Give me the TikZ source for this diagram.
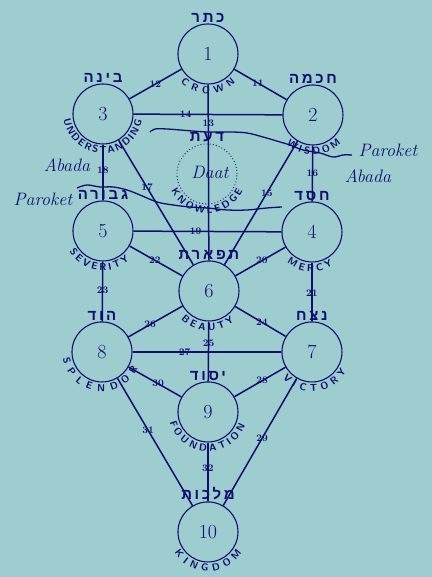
\documentclass[tikz,border=0pt]{standalone}
\usepackage{fontspec}
\newfontfamily\hebfont[Script=Hebrew,LetterSpace=18]{Liberation Sans}
\TeXXeTstate=1
\usetikzlibrary{positioning,decorations.text}
\definecolor{ink}{RGB}{14,14,112}
\definecolor{paper}{RGB}{157,205,206}
% name written round the lower half of a circle
\newcommand{\undername}[4]{\path[decorate,decoration={text along path,text align=fit to path,text color=ink,
  text={|\sffamily\bfseries\fontsize{10}{10}\selectfont|#4}}] (#1.center) ++(#2:39.5pt) arc[start angle=#2,end angle=#3,radius=39.5pt];}

\begin{document}
\begin{tikzpicture}[x=1pt,y=1pt,
  sef/.style={circle,draw=ink,line width=1.1pt,minimum size=60pt,inner sep=0pt,text=ink,font=\fontsize{20}{20}\selectfont},
  route/.style={draw=ink,line width=1.5pt},
  pnum/.style={text=ink,inner sep=0pt,font=\bfseries\fontsize{10}{10}\selectfont},
  heb/.style={text=ink,inner sep=0pt,font=\hebfont\bfseries\fontsize{15}{15}\selectfont},
  hand/.style={text=ink,inner sep=0pt,font=\itshape\fontsize{18}{18}\selectfont},
  veil/.style={draw=ink,line width=1.3pt}]
\fill[paper] (0,0) rectangle (432,577);
% the ten sefirot and daat
\node[sef] (s1) at (208,523) {1};
\node[sef] (s2) at (313,462) {2};
\node[sef] (s3) at (103,463) {3};
\node[sef] (s4) at (312,345) {4};
\node[sef] (s5) at (103,346) {5};
\node[sef] (s6) at (209,286) {6};
\node[sef] (s7) at (312,225) {7};
\node[sef] (s8) at (102,225) {8};
\node[sef] (s9) at (208,165) {9};
\node[sef] (s10) at (208,45) {10};
\node[circle,draw=ink,line width=0.9pt,dash pattern=on 0.9pt off 2.2pt,minimum size=60pt] (daat) at (207,403) {};
\node[hand] (daatname) at (210,405) {Daat};
% the 22 paths
\draw[route] (s1) -- node[pnum,pos=.45] (p11) {11} (s2);
\draw[route] (s1) -- node[pnum,pos=.5] (p12) {12} (s3);
\draw[route] (s1) -- node[pnum,pos=.22] (p13) {13} (s6);
\draw[route] (s3) -- node[pnum,pos=.35] (p14) {14} (s2);
\draw[route] (s2) -- node[pnum,pos=.42] (p15) {15} (s6);
\draw[route] (s2) -- node[pnum,pos=.5] (p16) {16} (s4);
\draw[route] (s3) -- node[pnum,pos=.38] (p17) {17} (s6);
\draw[route] (s3) -- node[pnum,pos=.46] (p18) {18} (s5);
\draw[route] (s5) -- node[pnum,pos=.42] (p19) {19} (s4);
\draw[route] (s4) -- node[pnum,pos=.47] (p20) {20} (s6);
\draw[route] (s4) -- node[pnum,pos=.52] (p21) {21} (s7);
\draw[route] (s5) -- node[pnum,pos=.48] (p22) {22} (s6);
\draw[route] (s5) -- node[pnum,pos=.48] (p23) {23} (s8);
\draw[route] (s6) -- node[pnum,pos=.53] (p24) {24} (s7);
\draw[route] (s6) -- node[pnum,pos=.36] (p25) {25} (s9);
\draw[route] (s6) -- node[pnum,pos=.6] (p26) {26} (s8);
\draw[route] (s8) -- node[pnum,pos=.35] (p27) {27} (s7);
\draw[route] (s7) -- node[pnum,pos=.46] (p28) {28} (s9);
\draw[route] (s7) -- node[pnum,pos=.47] (p29) {29} (s10);
\draw[route] (s8) -- node[pnum,pos=.56] (p30) {30} (s9);
\draw[route] (s8) -- node[pnum,pos=.41] (p31) {31} (s10);
\draw[route] (s9) -- node[pnum,pos=.43] (p32) {32} (s10);
% hebrew names
\node[heb,above=1pt of s1] (h1) {\beginR כתר\endR};
\node[heb,above=1pt of s2] (h2) {\beginR חכמה\endR};
\node[heb,above=1pt of s3] (h3) {\beginR בינה\endR};
\node[heb,above=1pt of daat] (hdaat) {\beginR דעת\endR};
\node[heb,above=1pt of s4] (h4) {\beginR חסד\endR};
\node[heb,above=1pt of s5] (h5) {\beginR גבורה\endR};
\node[heb,above=1pt of s6] (h6) {\beginR תפארת\endR};
\node[heb,above=1pt of s7] (h7) {\beginR נצח\endR};
\node[heb,above=1pt of s8] (h8) {\beginR הוד\endR};
\node[heb,above=1pt of s9] (h9) {\beginR יסוד\endR};
\node[heb,above=1pt of s10] (h10) {\beginR מלכות\endR};
% english names
\undername{s1}{226}{314}{CROWN}
\undername{s2}{228}{315}{WISDOM}
\undername{s3}{188}{350}{UNDERSTANDING}
\undername{daat}{205}{335}{KNOWLEDGE}
\undername{s4}{231}{302}{MERCY}
\undername{s5}{212}{312}{SEVERITY}
\undername{s6}{225}{310}{BEAUTY}
\undername{s7}{222}{330}{VICTORY}
\undername{s8}{190}{335}{SPLENDOR}
\undername{s9}{195}{340}{FOUNDATION}
\undername{s10}{212}{328}{KINGDOM}
% the veils
\draw[veil] plot[smooth,tension=.6] coordinates {(150,445) (155,448) (167,448) (180,447) (207,445) (230,445) (247,444) (263,440) (280,435) (290,432) (303,427) (320,424) (333,420) (343,422) (352,422)};
\draw[veil] plot[smooth,tension=.6] coordinates {(77,389) (87,392) (100,390) (113,390) (127,387) (140,382) (157,375) (173,372) (190,370) (207,369) (227,367) (247,367) (267,369) (282,370)};
\node[hand] (parokR) at (388,427) {Paroket};
\node[hand] (abadaR) at (368,401) {Abada};
\node[hand] (abadaL) at (67,412) {Abada};
\node[hand] (parokL) at (43,378) {Paroket};
\end{tikzpicture}
\end{document}
